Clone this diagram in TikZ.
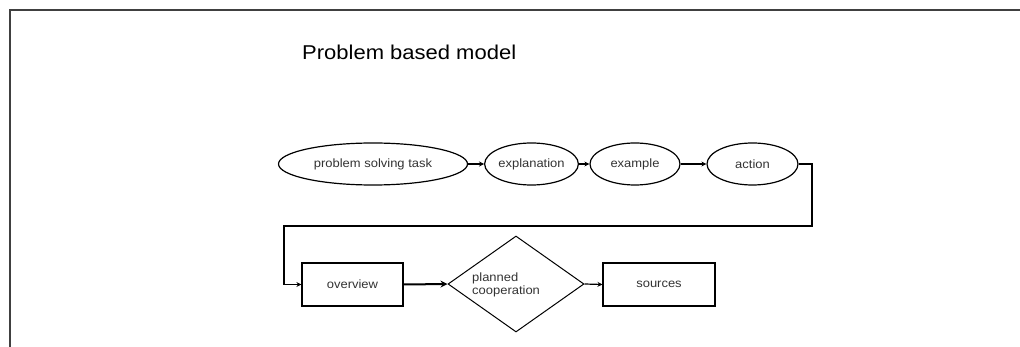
\documentclass[tikz,border=0pt]{standalone}
\usepackage{fontspec}
\usetikzlibrary{arrows.meta,shapes.geometric}
\newfontfamily\diagfont[FakeStretch=1.08]{Liberation Sans}
\newfontfamily\titlefont[FakeStretch=1.1]{Liberation Sans}
\begin{document}
\begin{tikzpicture}[x=1pt,y=-1pt,
  every node/.style={font=\diagfont\fontsize{12}{13.5}\selectfont, text=black!80},
  oval/.style={draw=black, line width=1.2pt, ellipse, minimum height=42pt, inner sep=0pt},
  stepbox/.style={draw=black, line width=1.2pt, rectangle, minimum height=43pt, inner sep=0pt},
  decision/.style={draw=black, line width=1pt, diamond, minimum width=136pt, minimum height=96pt, inner sep=0pt},
  conn/.style={draw=black, line width=1.2pt, -{Stealth[length=5pt,width=5pt]}},
  thickconn/.style={draw=black, line width=2pt, -{Stealth[length=7pt,width=7pt]}}
]
\useasboundingbox (0,0) rectangle (1020,347);
\fill[white] (0,0) rectangle (1020,347);
% frame
\draw[line width=1.6pt, black!75] (10,347) -- (10,10) -- (1020,10);

% title
\node[font=\titlefont\fontsize{20}{22}\selectfont, text=black, anchor=west, inner sep=0pt] (title) at (302,52) {Problem based model};

% first row
\node[oval, minimum width=189pt] (task) at (373,164) {problem solving task};
\node[oval, minimum width=83pt] (expl) at (531.5,164) {explanation};
\node[oval, minimum width=90pt] (exa) at (635,164) {example};
\node[oval, minimum width=91pt] (act) at (752.5,164) {action};

% second row
\node[stepbox, minimum width=101pt] (over) at (352.5,284.5) {overview};
\node[decision] (coop) at (516,284) {};
\node[align=left, anchor=west, inner sep=0pt] (cooptext) at (472,285) {planned\\cooperation};
\node[stepbox, minimum width=112pt] (src) at (659,284.5) {sources};

% routing corners
\coordinate (r1) at (812,226);
\coordinate (r2) at (284,226);

% connectors
\draw[conn] (task.east) -- (expl.west);
\draw[conn] (expl.east) -- (exa.west);
\draw[conn] (exa.east) -- (act.west);
\draw[conn] (act.east) -| (r1) -- (r2) |- (over.west);
\draw[thickconn] (over.east) -- (coop.west);
\draw[conn] (coop.east) -- (src.west);
\end{tikzpicture}
\end{document}
